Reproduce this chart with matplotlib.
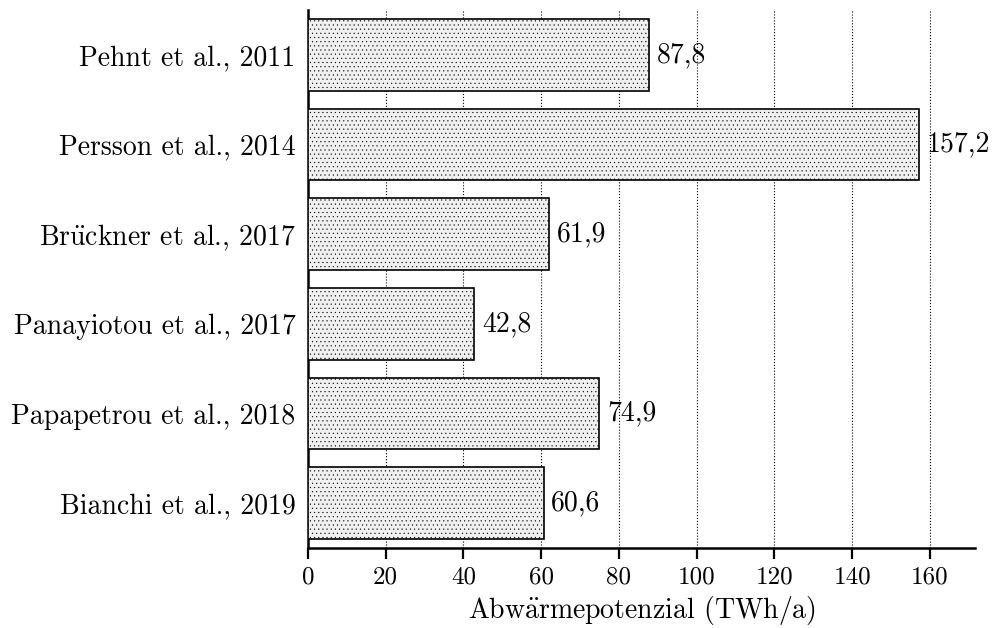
import matplotlib
matplotlib.use("Agg")
import matplotlib.pyplot as plt

studies = ["Pehnt et al., 2011", "Persson et al., 2014", r"Br$\ddot{\mathrm{u}}$ckner et al., 2017",
           "Panayiotou et al., 2017", "Papapetrou et al., 2018", "Bianchi et al., 2019"]
potential = [87.8, 157.2, 61.9, 42.8, 74.9, 60.6]
xticks = [0, 20, 40, 60, 80, 100, 120, 140, 160]

plt.rcParams["font.family"] = ["cmr10", "DejaVu Serif"]
plt.rcParams["mathtext.fontset"] = "cm"
plt.rcParams["axes.unicode_minus"] = False
plt.rcParams["hatch.color"] = "#e2e2e2"
plt.rcParams["hatch.linewidth"] = 0.3

fig = plt.figure(figsize=(9.95, 6.28), dpi=100)
ax = fig.add_axes([0.3095, 0.1274, 0.6705, 0.8566])

# top to bottom order
ypos = list(range(len(studies)))[::-1]
bars = ax.barh(ypos, potential, height=0.8, color="#f0f0f0", edgecolor="black",
               linewidth=1.2, hatch="....", zorder=3)

for y, v in zip(ypos, potential):
    ax.text(v + 2.0, y, f"{v:.1f}".replace(".", ","), va="center", ha="left",
            fontsize=20)

ax.set_yticks(ypos)
ax.set_yticklabels(studies, fontsize=20)
ax.tick_params(axis="y", length=0, pad=9)
ax.set_xticks(xticks)
ax.tick_params(axis="x", labelsize=18, width=1.6, length=8, direction="out", pad=5)
ax.set_xlim(0, 171.6)
ax.set_ylim(-0.5, 5.5)
ax.set_xlabel(r"Abw$\ddot{\mathrm{a}}$rmepotenzial (TWh/a)", fontsize=20, labelpad=4)

ax.xaxis.grid(True, linestyle=":", color="black", linewidth=0.8, zorder=0)
ax.set_axisbelow(True)
for s in ["top", "right"]:
    ax.spines[s].set_visible(False)
for s in ["left", "bottom"]:
    ax.spines[s].set_linewidth(1.8)

plt.savefig("out.png", dpi=100)
plt.close()
